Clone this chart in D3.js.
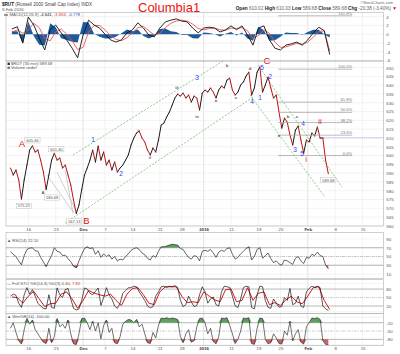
<!DOCTYPE html>
<html><head><meta charset="utf-8">
<script src="https://cdn.jsdelivr.net/npm/d3@7/dist/d3.min.js"></script>
<style>
html,body{margin:0;padding:0;background:#fff;}
svg{display:block;}
</style></head><body>
<svg id="chart" width="400" height="354"></svg>
<script>
// ---------------- data ----------------
const dayTicks   = [0,5,10,14,19,24,28,32,37,42,46,51,56,61];
const dayLabels  = ["16","23","Dec","7","14","21","28","2016","11","19","25","Feb","8","15"];
const monthTicks = [10,32,51];
const halfStart = -3.25, halfStep = 0.5;   // half-day sampled series
const dayStart = -3;                        // daily sampled series

const price = [
 592.9,588.9,591.8,586.1,575.3,586.1,594.6,603.1,605.5,602.0,
 603.1,597.4,590.6,580.7,588.9,597.4,601.3,597.4,598.6,592.9,
 594.6,588.9,583.2,574.7,567.1,571.9,580.7,588.9,592.9,597.4,
 603.1,596.3,605.4,597.4,602.0,594.6,597.4,591.8,596.3,590.6,
 592.9,594.6,597.4,600.3,606.0,609.9,612.8,613.9,609.9,607.7,
 603.1,600.3,604.3,602.0,608.8,617.3,618.5,621.9,624.7,628.7,
 632.7,634.9,633.8,635.5,632.7,634.4,630.4,633.8,632.7,625.9,
 635.5,637.2,636.1,638.4,636.1,632.7,637.2,639.5,638.4,642.9,
 644.0,637.2,634.4,636.1,640.1,641.8,645.2,647.4,634.4,638.4,
 647.4,650.3,636.1,640.1,644.6,638.4,632.7,634.4,624.7,615.6,
 621.3,619.0,611.6,606.0,614.5,616.8,608.8,601.4,608.8,607.7,
 612.8,611.1,616.2,609.9,610.0,597.4,589.68];
const priceTicks = [650,645,640,635,630,625,620,615,610,605,600,595,590,585,580,575,570,565,560];
const prevClose = 610.06;

const macd = [
 1.2,1.7,-2.0,3.9,2.1,-0.9,-3.6,1.0,2.1,0.3,
 -1.3,-3.2,-5.4,-0.2,3.2,2.1,1.4,0.0,-1.3,-1.8,
 -1.3,0.3,1.0,2.6,1.4,-0.2,-0.6,1.4,2.8,3.2,
 3.5,3.0,2.8,1.4,0.3,1.4,1.6,1.4,0.5,1.0,
 1.9,1.0,1.9,-0.2,-2.5,1.4,1.9,-1.3,-3.2,-3.6,
 -2.5,-2.2,-1.8,-2.5,-1.3,0.3,1.6,0.8,-4.641];
const macdSignal = [
 0.5,1.0,0.2,1.0,2.5,1.5,-1.0,-1.5,0.5,1.2,
 0.0,-1.5,-3.5,-3.0,0.5,2.0,2.0,1.0,-0.3,-1.2,
 -1.5,-0.8,0.3,1.5,1.8,0.8,-0.2,0.2,1.5,2.5,
 3.0,3.2,3.0,2.3,1.3,1.0,1.3,1.4,1.0,0.9,
 1.4,1.3,1.5,0.8,-1.0,-0.3,1.0,0.2,-1.8,-3.0,
 -2.9,-2.5,-2.1,-2.3,-1.8,-0.7,0.6,0.8,-3.863];
const macdHist = [
 0.7,0.7,-2.2,2.9,-0.4,-2.4,-2.6,2.5,1.6,-0.9,
 -1.3,-1.7,-1.9,2.8,2.7,0.1,-0.6,-1.0,-1.0,-0.6,
 0.2,1.1,0.7,1.1,-0.4,-1.0,-0.4,1.2,1.3,0.7,
 0.5,-0.2,-0.2,-0.9,-1.0,0.4,0.3,0.0,-0.5,0.1,
 0.5,-0.3,0.4,-1.0,-1.5,1.7,0.9,-1.5,-1.4,-0.6,
 0.4,0.3,0.3,-0.2,0.5,1.0,1.0,0.0,-0.78];
const macdTicks = [4,2,0,-2,-4,-6];

const rsi = [
 61,55,50,40,31,52,66,69,70,63,
 62,48,38,27,40,52,70,62,60,52,
 53,45,38,28,24,40,55,68,72,68,
 70,55,63,48,56,50,54,44,50,40,
 44,42,50,56,64,68,70,66,58,54,
 46,42,52,48,62,72,72,74,76,78,
 77,76,68,66,56,48,44,52,50,40,
 62,64,62,66,58,48,60,64,62,68,
 70,55,44,48,56,62,68,72,42,50,
 66,70,46,52,58,45,36,40,33,30,
 42,40,36,32,46,50,40,34,48,46,
 55,52,60,52,50,30,22.1];
const rsiTicks = [90,70,50,30,10];

const stoK = [
 55,62,58,30,15,60,85,62,78,55,
 30,20,12,10,60,15,12,84,60,50,
 78,82,45,12,6,10,40,84,80,65,
 60,72,84,22,50,85,60,45,20,12,
 30,65,75,84,85,90,88,70,55,40,
 20,14,18,55,70,88,90,86,90,88,
 92,86,40,18,25,55,35,18,22,60,
 88,70,30,45,52,25,20,70,90,88,
 86,55,20,15,45,85,90,88,15,10,
 60,90,88,40,15,12,45,30,16,18,
 50,40,82,25,30,55,20,15,70,82,
 90,86,90,85,20,10,4.4];
const stoD = [
 52,50,30,55,72,45,18,28,30,62,
 70,45,12,40,75,66,60,55,62,40,
 22,62,82,85,60,30,25,70,88,88,
 88,55,32,35,32,70,55,42,35,78,
 80,35,40,85,40,65,70,25,32,22,
 42,55,35,28,55,85,88,40,7.82];
const stoTicks = [80,50,20];

const willR = [
 -40,-20,-55,-85,-97,-45,-5,-25,-10,-45,
 -60,-75,-90,-95,-40,-92,-70,-5,-35,-25,
 -40,-10,-60,-96,-99,-60,-5,-3,-20,-45,
 -15,-50,-20,-78,-30,-10,-55,-40,-92,-96,
 -70,-25,-15,-8,-10,-20,-8,-35,-25,-60,
 -92,-95,-55,-75,-30,-3,-5,-2,-6,-3,
 -5,-8,-70,-92,-60,-45,-90,-85,-35,-5,
 -3,-20,-60,-40,-88,-96,-70,-3,-5,-2,
 -30,-60,-95,-80,-50,-3,-5,-2,-95,-98,
 -40,-3,-5,-80,-96,-92,-60,-75,-95,-97,
 -50,-65,-15,-85,-60,-45,-90,-97,-35,-20,
 -3,-5,-2,-8,-85,-98,-100];
const wmTicks = [-20,-50,-80];

const fibLevels = [161.8,100,61.8,50,38.2,23.6,0];
const fibLabels = ["161.8%","100.0%","61.8%","50.0%","38.2%","23.6%","0.0%"];
const fibLow = 600, fibHigh = 649.1;
const fibRange = [45.6, 59.1];

const channelLines = [
 [[8.16,600.3],[35.53,653.7]],
 [[6.70,561.6],[41.0,633.2]],
 [[41.92,651.4],[57.24,582.1]],
 [[40.46,634.4],[54.14,576.4]]];
const fanLines = [
 [[3.41,588.9],[8.34,567.3]],
 [[5.24,590.6],[8.89,567.3]],
 [[6.70,591.8],[8.16,567.3]]];

const redWaves  = [[-1.15,606.5,"A"],[10.6,562.8,"B"],[43.56,654.0,"C"]];
const redRoman  = [[50.68,598.0,"i"],[53.23,619.6,"ii"]];
const blueWaves = [[11.81,608.8,"1"],[16.92,589.5,"2"],[30.78,644.0,"3"],[40.82,630.4,"4"],[42.65,649.7,"5"],
                   [42.28,632.7,"1"],[44.11,644.6,"2"],[48.67,603.1,"3"],[50.13,617.9,"4"],[49.95,600.9,"5"]];
const grayWaves = [[20.02,614.5,"i"],[22.21,598.6,"ii"],[27.14,638.9,"iii"],[30.78,621.9,"iv"],
                   [34.25,631.5,"a"],[36.26,650.9,"b"],[37.90,632.7,"c"],[40.46,649.7,"d"],
                   [45.75,611.6,"a"],[47.39,621.9,"b"],[49.03,621.9,"c"],[2.68,578.7,"A"]];
const priceNotes = [[8,"605.46",0,-5.5],[16,"601.30",2,-4],[4,"575.25",2.5,7],[13,"580.68",6,8],[24,"567.13",-2,8],[116,"589.68",0,6.5]];

// ---------------- layout ----------------
const FONT = "'Liberation Sans', Arial, sans-serif";
const svg = d3.select("#chart").attr("font-family", FONT);
const LEFT = 6, RIGHT = 383.3;
const x = d3.scaleLinear().domain([-4.07, 64.78]).range([LEFT, RIGHT]);
const P = {
  macd:  {top:12.7,  bottom:61},
  price: {top:61,    bottom:226},
  rsi:   {top:232.5, bottom:278.5},
  sto:   {top:279.5, bottom:313.5},
  wm:    {top:313.5, bottom:345.5}
};
const yMacd  = d3.scaleLinear().domain([-6.126, 4.914]).range([61, 12.7]);
const yPrice = d3.scaleLinear().domain([560, 653.75]).range([225.9, 61]);
const yRsi   = d3.scaleLinear().domain([0,100]).range([278.4, 234.6]);
const ySto   = d3.scaleLinear().domain([0,100]).range([311.7, 283.4]);
const yWm    = d3.scaleLinear().domain([-100,0]).range([344.9, 317.2]);
const tHalf = i => halfStart + i*halfStep;
const tDay  = i => dayStart + i;

svg.append("rect").attr("width",400).attr("height",354).attr("fill","#fff");
const defs = svg.append("defs");
Object.entries(P).forEach(([k,p]) => {
  defs.append("clipPath").attr("id","clip-"+k).append("rect")
    .attr("x",LEFT).attr("y",p.top).attr("width",RIGHT-LEFT).attr("height",p.bottom-p.top);
});

function panelGrid(p, y, grid) {
  const g = svg.append("g");
  g.selectAll("line.v").data(dayTicks).enter().append("line")
    .attr("x1",d=>x(d)).attr("x2",d=>x(d)).attr("y1",p.top).attr("y2",p.bottom)
    .attr("stroke",d=>monthTicks.includes(d)?"#cfcfcf":"#ebebeb").attr("stroke-width",0.6);
  g.selectAll("line.h").data(grid).enter().append("line")
    .attr("x1",LEFT).attr("x2",RIGHT).attr("y1",d=>y(d)).attr("y2",d=>y(d))
    .attr("stroke","#ebebeb").attr("stroke-width",0.6);
  return g;
}
function refLines(y, solid, dashed) {
  const g = svg.append("g");
  g.selectAll("line.s").data(solid).enter().append("line")
    .attr("x1",LEFT).attr("x2",RIGHT).attr("y1",d=>y(d)).attr("y2",d=>y(d))
    .attr("stroke","#9a9a9a").attr("stroke-width",0.7);
  g.selectAll("line.d").data(dashed).enter().append("line")
    .attr("x1",LEFT).attr("x2",RIGHT).attr("y1",d=>y(d)).attr("y2",d=>y(d))
    .attr("stroke","#aaa").attr("stroke-width",0.6).attr("stroke-dasharray","3,1,1,1");
}
function rightAxis(y, ticks) {
  const g = svg.append("g").attr("transform",`translate(${RIGHT},0)`)
    .call(d3.axisRight(y).tickValues(ticks).tickSize(0).tickPadding(3).tickFormat(d=>String(d)));
  g.select(".domain").remove();
  g.attr("font-family",FONT);
  g.selectAll("text").attr("font-size",4.4).attr("fill","#555");
}
function dateAxis(yPos) {
  const g = svg.append("g").attr("transform",`translate(0,${yPos})`)
    .call(d3.axisBottom(x).tickValues(dayTicks).tickSize(0).tickPadding(1.5).tickFormat((d,i)=>dayLabels[i]));
  g.select(".domain").remove();
  g.attr("font-family",FONT);
  g.selectAll("text").attr("font-size",4.4).attr("fill",d=>monthTicks.includes(d)?"#333":"#555")
    .attr("font-weight",d=>monthTicks.includes(d)?"bold":"normal");
}

// ---- grids ----
panelGrid(P.macd, yMacd, macdTicks);
panelGrid(P.price, yPrice, priceTicks);
panelGrid(P.rsi, yRsi, rsiTicks);
panelGrid(P.sto, ySto, [0,100]);
panelGrid(P.wm, yWm, [0,-100]);
refLines(yRsi, [70,30], [50]);
refLines(ySto, [80,20], [50]);
refLines(yWm, [-20,-80], [-50]);

// ---- MACD ----
const gm = svg.append("g").attr("clip-path","url(#clip-macd)");
gm.append("path").datum(macdHist)
  .attr("d", d3.area().x((d,i)=>x(tDay(i))).y0(yMacd(0)).y1(d=>yMacd(d)))
  .attr("fill","#1d5b9c");
gm.append("path").datum(macdSignal)
  .attr("d", d3.line().x((d,i)=>x(tDay(i))).y(d=>yMacd(d)))
  .attr("fill","none").attr("stroke","#f05050").attr("stroke-width",0.9);
gm.append("path").datum(macd)
  .attr("d", d3.line().x((d,i)=>x(tDay(i))).y(d=>yMacd(d)))
  .attr("fill","none").attr("stroke","#111").attr("stroke-width",0.9);

// ---- price ----
const gp = svg.append("g").attr("clip-path","url(#clip-price)");
gp.selectAll("line.ch").data(channelLines).enter().append("line")
  .attr("x1",d=>x(d[0][0])).attr("y1",d=>yPrice(d[0][1]))
  .attr("x2",d=>x(d[1][0])).attr("y2",d=>yPrice(d[1][1]))
  .attr("stroke","#6cbf6c").attr("stroke-width",0.8).attr("stroke-dasharray","2,1.5");
gp.selectAll("line.fan").data(fanLines).enter().append("line")
  .attr("x1",d=>x(d[0][0])).attr("y1",d=>yPrice(d[0][1]))
  .attr("x2",d=>x(d[1][0])).attr("y2",d=>yPrice(d[1][1]))
  .attr("stroke","#b0b0b0").attr("stroke-width",0.6);
gp.append("line").attr("x1",x(53.9)).attr("x2",RIGHT)
  .attr("y1",yPrice(prevClose)).attr("y2",yPrice(prevClose))
  .attr("stroke","#6677ff").attr("stroke-width",0.7).attr("stroke-dasharray","1,1");
const fibY = d => yPrice(fibLow + (fibHigh - fibLow) * d / 100);
const gf = svg.append("g");
gf.selectAll("line").data(fibLevels).enter().append("line")
  .attr("x1",x(fibRange[0])).attr("x2",x(fibRange[1]))
  .attr("y1",fibY).attr("y2",fibY)
  .attr("stroke","#a8a8a8").attr("stroke-width",0.8);
gf.selectAll("text").data(fibLevels).enter().append("text")
  .attr("x",x(fibRange[1])).attr("y",d=>fibY(d)-1.0)
  .attr("text-anchor","end").attr("font-size",4.1).attr("fill","#777")
  .text((d,i)=>fibLabels[i]);
const idx = d3.range(1, price.length);
gp.selectAll("line.seg").data(idx).enter().append("line")
  .attr("x1",i=>x(tHalf(i-1))).attr("y1",i=>yPrice(price[i-1]))
  .attr("x2",i=>x(tHalf(i))).attr("y2",i=>yPrice(price[i]))
  .attr("stroke",i=>price[i]>=price[i-1]?"#1a1a1a":"#c01010")
  .attr("stroke-width",1.0).attr("stroke-linecap","round");

const gn = svg.append("g");
priceNotes.forEach(([k,s,dx,dy]) => {
  const cx = x(tHalf(k))+dx, cy = yPrice(price[k])+dy;
  const w = s.length*2.2+2;
  gn.append("rect").attr("x",cx-w/2).attr("y",cy-2.6).attr("width",w).attr("height",5.2)
    .attr("fill","#fff").attr("stroke","#b0b0b0").attr("stroke-width",0.4);
  gn.append("text").attr("x",cx).attr("y",cy).attr("dy","0.35em").attr("text-anchor","middle")
    .attr("font-size",4).attr("fill","#555").text(s);
});

function waveLabels(data, color, size, weight) {
  svg.append("g").selectAll("text").data(data).enter().append("text")
    .attr("x",d=>x(d[0])).attr("y",d=>yPrice(d[1])).attr("dy","0.35em")
    .attr("text-anchor","middle").attr("font-size",size).attr("font-weight",weight)
    .attr("fill",color).text(d=>d[2]);
}
waveLabels(grayWaves, "#555", 4.2, "bold");
waveLabels(blueWaves, "#3340ff", 6.5, "normal");
waveLabels(redRoman, "#e01010", 7.5, "normal");
waveLabels(redWaves, "#e01010", 9.5, "normal");

// ---- RSI ----
const gr = svg.append("g").attr("clip-path","url(#clip-rsi)");
gr.append("path").datum(rsi)
  .attr("d", d3.area().x((d,i)=>x(tHalf(i))).y0(yRsi(70)).y1(d=>yRsi(Math.max(d,70))))
  .attr("fill","#5f9f5f");
gr.append("path").datum(rsi)
  .attr("d", d3.area().x((d,i)=>x(tHalf(i))).y0(yRsi(30)).y1(d=>yRsi(Math.min(d,30))))
  .attr("fill","#c86464");
gr.append("path").datum(rsi)
  .attr("d", d3.line().x((d,i)=>x(tHalf(i))).y(d=>yRsi(d)))
  .attr("fill","none").attr("stroke","#222").attr("stroke-width",0.7);

// ---- STO ----
const gs = svg.append("g").attr("clip-path","url(#clip-sto)");
gs.append("path").datum(stoD)
  .attr("d", d3.line().x((d,i)=>x(tDay(i))).y(d=>ySto(d)))
  .attr("fill","none").attr("stroke","#d00000").attr("stroke-width",0.9);
gs.append("path").datum(stoK)
  .attr("d", d3.line().x((d,i)=>x(tHalf(i))).y(d=>ySto(d)))
  .attr("fill","none").attr("stroke","#111").attr("stroke-width",0.7);

// ---- Williams %R ----
const gw = svg.append("g").attr("clip-path","url(#clip-wm)");
gw.append("path").datum(willR)
  .attr("d", d3.area().x((d,i)=>x(tHalf(i))).y0(yWm(-20)).y1(d=>yWm(Math.max(d,-20))))
  .attr("fill","#5f9f5f");
gw.append("path").datum(willR)
  .attr("d", d3.area().x((d,i)=>x(tHalf(i))).y0(yWm(-80)).y1(d=>yWm(Math.min(d,-80))))
  .attr("fill","#c86464");
gw.append("path").datum(willR)
  .attr("d", d3.line().x((d,i)=>x(tHalf(i))).y(d=>yWm(d)))
  .attr("fill","none").attr("stroke","#333").attr("stroke-width",0.7);

// ---- borders ----
Object.values(P).forEach(p => {
  svg.append("rect").attr("x",LEFT).attr("y",p.top).attr("width",RIGHT-LEFT).attr("height",p.bottom-p.top)
    .attr("fill","none").attr("stroke","#b0b0b0").attr("stroke-width",0.6);
});

// ---- axes ----
rightAxis(yMacd, macdTicks);
rightAxis(yPrice, priceTicks);
rightAxis(yRsi, rsiTicks);
rightAxis(ySto, stoTicks);
rightAxis(yWm, wmTicks);
dateAxis(P.price.bottom);
dateAxis(P.wm.bottom);

// ---- header & legends ----
const t1 = svg.append("text").attr("x",2).attr("y",5.5).attr("font-size",4.6).attr("fill","#444");
t1.append("tspan").attr("font-weight","bold").attr("fill","#111").text("$RUT");
t1.append("tspan").text(" (Russell 2000 Small Cap Index) INDX");
svg.append("text").attr("x",2).attr("y",10.5).attr("font-size",4.2).attr("fill","#555").text("9-Feb-2016");
svg.append("text").attr("x",138).attr("y",12).attr("font-size",13).attr("fill","#ee1111").text("Columbia1");
svg.append("text").attr("x",393).attr("y",3.8).attr("text-anchor","end").attr("font-size",3.9).attr("fill","#666").text("©StockCharts.com");
const t2 = svg.append("text").attr("x",397).attr("y",10.0).attr("text-anchor","end").attr("font-size",4.7).attr("fill","#666");
[["Open"," 610.02 "],["High"," 610.03 "],["Low"," 589.68 "],["Close"," 589.68 "],["Chg"," -20.38 (-3.40%)"]].forEach(([a,b])=>{
  t2.append("tspan").attr("font-weight","bold").attr("fill","#222").text(a);
  t2.append("tspan").text(b);
});
t2.append("tspan").attr("fill","#d00").text(" ▼");

svg.append("line").attr("x1",4).attr("x2",8).attr("y1",15).attr("y2",15).attr("stroke","#111").attr("stroke-width",0.8);
const tm = svg.append("text").attr("x",9.5).attr("y",16.4).attr("font-size",4.2).attr("fill","#555");
tm.append("tspan").text("MACD(12,26,9)");
tm.append("tspan").attr("fill","#111").text(" -4.641,");
tm.append("tspan").attr("fill","#e03030").text(" -3.863,");
tm.append("tspan").attr("fill","#2050c0").text(" -0.778");

svg.append("rect").attr("x",7.5).attr("y",62.6).attr("width",2.4).attr("height",2.4).attr("fill","#333");
svg.append("text").attr("x",11).attr("y",64.9).attr("font-size",4.2).attr("fill","#555").text("$RUT (30 min) 589.68");
svg.append("rect").attr("x",7.5).attr("y",66.6).attr("width",2.4).attr("height",2.4).attr("fill","#777");
svg.append("text").attr("x",11).attr("y",68.9).attr("font-size",4.2).attr("fill","#555").text("Volume undef");

svg.append("text").attr("x",7).attr("y",242).attr("font-size",4.2).attr("fill","#555").text("▲ RSI(14) 22.10");
const ts = svg.append("text").attr("x",7).attr("y",285).attr("font-size",4.2).attr("fill","#555");
ts.append("tspan").text("— Full STO %K(14,3) %D(3) 4.40,");
ts.append("tspan").attr("fill","#e02020").text(" 7.82");
svg.append("text").attr("x",7).attr("y",318.3).attr("font-size",4.2).attr("fill","#555").text("▲ Wm%R(14) -100.00");
</script>
</body></html>
